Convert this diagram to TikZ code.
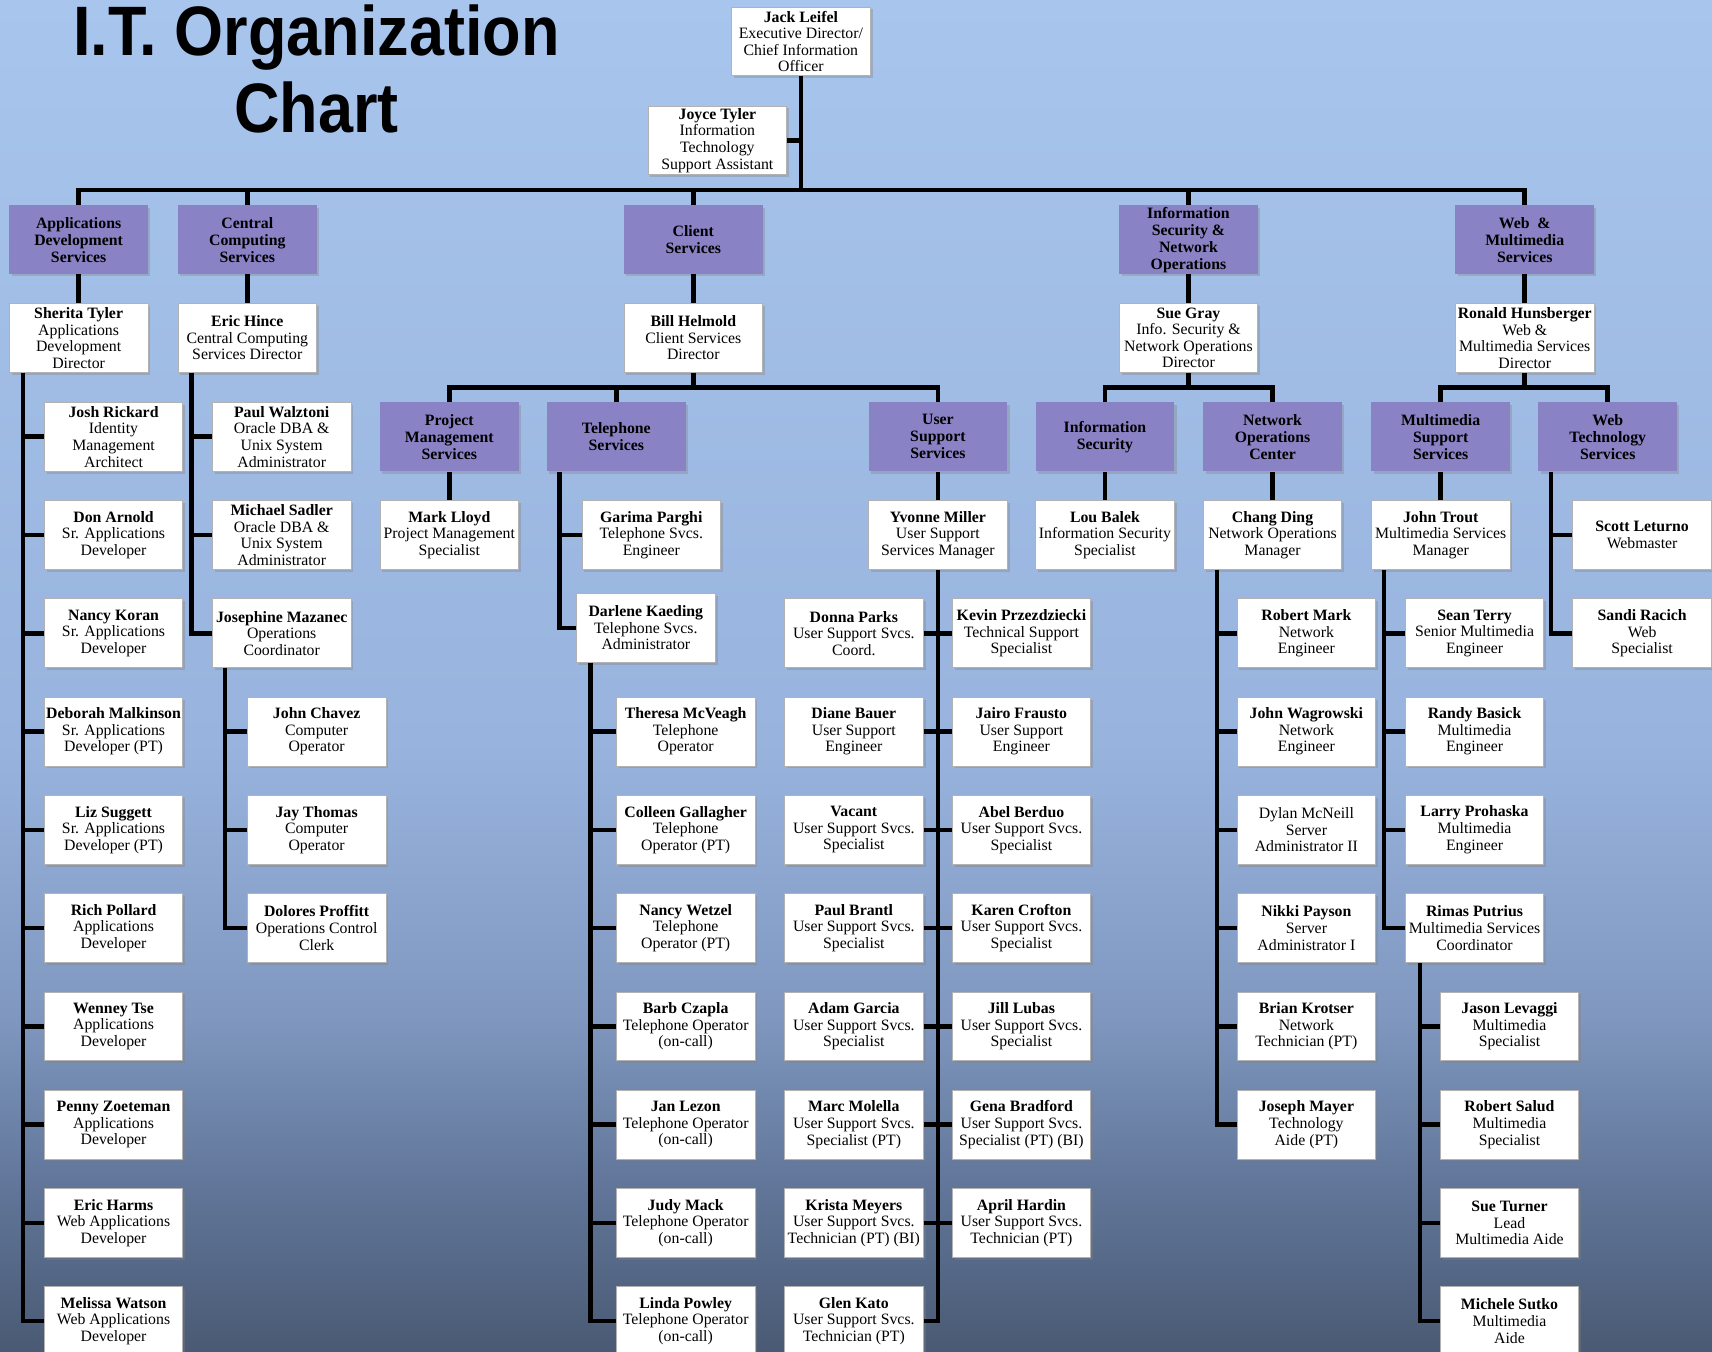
\documentclass[tikz,border=0pt]{standalone}
\usepackage{fontspec}
\setmainfont{Liberation Serif}
\newfontfamily\titlefont{Liberation Sans}[FakeStretch=0.9]
\usepackage{xcolor}
\usepackage{tikz}
\usetikzlibrary{shadows,calc}

\definecolor{unitfill}{RGB}{137,130,196}
\definecolor{bgtop}{RGB}{168,197,237}
\definecolor{bgmid}{RGB}{152,180,222}
\definecolor{bgdim}{RGB}{128,152,192}
\definecolor{bglow}{RGB}{96,117,152}
\definecolor{bgbot}{RGB}{74,90,116}
\pgfdeclareverticalshading{skyshade}{100bp}{color(0bp)=(bgbot); color(25bp)=(bgbot); color(31bp)=(bglow); color(37.5bp)=(bgdim); color(47.5bp)=(bgmid); color(75bp)=(bgtop); color(100bp)=(bgtop)}

\begin{document}
\begin{tikzpicture}[x=0.5459pt, y=-0.5459pt,
    pbox/.style={rectangle, draw=gray!60, line width=0.4pt, fill=white,
                 minimum width=69.3pt, minimum height=34.4pt, inner sep=0.5pt,
                 align=center, font=\fontsize{7.9}{8.3}\selectfont,
                 drop shadow={shadow xshift=1.2pt, shadow yshift=-1.2pt, opacity=0.35}},
    unit/.style={pbox, draw=none, fill=unitfill, font=\fontsize{7.9}{8.5}\selectfont\bfseries},
    conn/.style={line width=2.3pt, black},
]
    \useasboundingbox (0,0) rectangle (1568,1238);
    \shade[shading=skyshade] (0,0) rectangle (1568,1238);

    \node[font=\titlefont\bfseries\fontsize{35}{35}\selectfont, anchor=base] (title) at (290,51) {I.T. Organization};
    \node[font=\titlefont\bfseries\fontsize{35}{35}\selectfont, anchor=base] (titlesub) at (290,121) {Chart};

    % Top
    \node[pbox] (jack) at (733.5,38) {\textbf{Jack Leifel}\\Executive Director/\\Chief Information\\Officer};
    \node[pbox] (joyce) at (657,128.5) {\textbf{Joyce Tyler}\\Information\\Technology\\Support Assistant};

    % Divisions
    \node[unit] (appdev) at (72,219.5) {Applications\\Development\\Services};
    \node[unit] (central) at (226.5,219.5) {Central\\Computing\\Services};
    \node[unit] (client) at (635,219.5) {Client\\Services};
    \node[unit] (secnet) at (1088.5,219.5) {Information\\Security \&\\Network\\Operations};
    \node[unit] (webmm) at (1396.5,219.5) {Web\ \ \&\\Multimedia\\Services};

    \node[pbox] (sherita) at (72,309.5) {\textbf{Sherita Tyler}\\Applications\\Development\\Director};
    \node[pbox] (eric) at (226.5,309.5) {\textbf{Eric Hince}\\Central Computing\\Services Director};
    \node[pbox] (bill) at (635,309.5) {\textbf{Bill Helmold}\\Client Services\\Director};
    \node[pbox] (sue) at (1088.5,309.5) {\textbf{Sue Gray}\\Info. Security \&\\Network Operations\\Director};
    \node[pbox] (ronald) at (1396.5,309.5) {\textbf{Ronald Hunsberger}\\Web \&\\Multimedia Services\\Director};

    % Applications Development
    \node[pbox] (josh) at (104,400) {\textbf{Josh Rickard}\\Identity\\Management\\Architect};
    \node[pbox] (donarnold) at (104,490) {\textbf{Don Arnold}\\Sr. Applications\\Developer};
    \node[pbox] (nkoran) at (104,580) {\textbf{Nancy Koran}\\Sr. Applications\\Developer};
    \node[pbox] (deborah) at (104,670) {\textbf{Deborah Malkinson}\\Sr. Applications\\Developer (PT)};
    \node[pbox] (liz) at (104,760) {\textbf{Liz Suggett}\\Sr. Applications\\Developer (PT)};
    \node[pbox] (rich) at (104,850) {\textbf{Rich Pollard}\\Applications\\Developer};
    \node[pbox] (wenney) at (104,940) {\textbf{Wenney Tse}\\Applications\\Developer};
    \node[pbox] (penny) at (104,1030) {\textbf{Penny Zoeteman}\\Applications\\Developer};
    \node[pbox] (eharms) at (104,1120) {\textbf{Eric Harms}\\Web Applications\\Developer};
    \node[pbox] (melissa) at (104,1210) {\textbf{Melissa Watson}\\Web Applications\\Developer};

    % Central Computing
    \node[pbox] (paulw) at (258,400) {\textbf{Paul Walztoni}\\Oracle DBA \&\\Unix System\\Administrator};
    \node[pbox] (sadler) at (258,490) {\textbf{Michael Sadler}\\Oracle DBA \&\\Unix System\\Administrator};
    \node[pbox] (josephine) at (258,580) {\textbf{Josephine Mazanec}\\Operations\\Coordinator};
    \node[pbox] (chavez) at (290,670) {\textbf{John Chavez}\\Computer\\Operator};
    \node[pbox] (jthomas) at (290,760) {\textbf{Jay Thomas}\\Computer\\Operator};
    \node[pbox] (dolores) at (290,850) {\textbf{Dolores Proffitt}\\Operations Control\\Clerk};

    % Client Services
    \node[unit] (projmgmt) at (411.5,400) {Project\\Management\\Services};
    \node[unit] (telsvc) at (564.5,400) {Telephone\\Services};
    \node[unit] (usersvc) at (859,400) {User\\Support\\Services};
    \node[pbox] (mark) at (411.5,490) {\textbf{Mark Lloyd}\\Project Management\\Specialist};
    \node[pbox] (garima) at (596.5,490) {\textbf{Garima Parghi}\\Telephone Svcs.\\Engineer};
    \node[pbox] (darlene) at (591.5,575) {\textbf{Darlene Kaeding}\\Telephone Svcs.\\Administrator};
    \node[pbox] (theresa) at (628,670) {\textbf{Theresa McVeagh}\\Telephone\\Operator};
    \node[pbox] (colleen) at (628,760) {\textbf{Colleen Gallagher}\\Telephone\\Operator (PT)};
    \node[pbox] (nwetzel) at (628,850) {\textbf{Nancy Wetzel}\\Telephone\\Operator (PT)};
    \node[pbox] (barb) at (628,940) {\textbf{Barb Czapla}\\Telephone Operator\\(on-call)};
    \node[pbox] (janlezon) at (628,1030) {\textbf{Jan Lezon}\\Telephone Operator\\(on-call)};
    \node[pbox] (judy) at (628,1120) {\textbf{Judy Mack}\\Telephone Operator\\(on-call)};
    \node[pbox] (linda) at (628,1210) {\textbf{Linda Powley}\\Telephone Operator\\(on-call)};

    \node[pbox] (yvonne) at (859,490) {\textbf{Yvonne Miller}\\User Support\\Services Manager};
    \node[pbox] (donna) at (782,580) {\textbf{Donna Parks}\\User Support Svcs.\\Coord.};
    \node[pbox] (diane) at (782,670) {\textbf{Diane Bauer}\\User Support\\Engineer};
    \node[pbox] (vacant) at (782,760) {\textbf{Vacant}\\User Support Svcs.\\Specialist};
    \node[pbox] (brantl) at (782,850) {\textbf{Paul Brantl}\\User Support Svcs.\\Specialist};
    \node[pbox] (adam) at (782,940) {\textbf{Adam Garcia}\\User Support Svcs.\\Specialist};
    \node[pbox] (marc) at (782,1030) {\textbf{Marc Molella}\\User Support Svcs.\\Specialist (PT)};
    \node[pbox] (krista) at (782,1120) {\textbf{Krista Meyers}\\User Support Svcs.\\Technician (PT) (BI)};
    \node[pbox] (glen) at (782,1210) {\textbf{Glen Kato}\\User Support Svcs.\\Technician (PT)};
    \node[pbox] (kevin) at (935.5,580) {\textbf{Kevin Przezdziecki}\\Technical Support\\Specialist};
    \node[pbox] (jairo) at (935.5,670) {\textbf{Jairo Frausto}\\User Support\\Engineer};
    \node[pbox] (abel) at (935.5,760) {\textbf{Abel Berduo}\\User Support Svcs.\\Specialist};
    \node[pbox] (karen) at (935.5,850) {\textbf{Karen Crofton}\\User Support Svcs.\\Specialist};
    \node[pbox] (jill) at (935.5,940) {\textbf{Jill Lubas}\\User Support Svcs.\\Specialist};
    \node[pbox] (gena) at (935.5,1030) {\textbf{Gena Bradford}\\User Support Svcs.\\Specialist (PT) (BI)};
    \node[pbox] (april) at (935.5,1120) {\textbf{April Hardin}\\User Support Svcs.\\Technician (PT)};

    % Information Security & Network Operations
    \node[unit] (infosec) at (1012,400) {Information\\Security};
    \node[unit] (netops) at (1165.5,400) {Network\\Operations\\Center};
    \node[pbox] (lou) at (1012,490) {\textbf{Lou Balek}\\Information Security\\Specialist};
    \node[pbox] (chang) at (1165.5,490) {\textbf{Chang Ding}\\Network Operations\\Manager};
    \node[pbox] (rmark) at (1196.5,580) {\textbf{Robert Mark}\\Network\\Engineer};
    \node[pbox] (wagrowski) at (1196.5,670) {\textbf{John Wagrowski}\\Network\\Engineer};
    \node[pbox] (dylan) at (1196.5,760) {Dylan McNeill\\Server\\Administrator II};
    \node[pbox] (nikki) at (1196.5,850) {\textbf{Nikki Payson}\\Server\\Administrator I};
    \node[pbox] (brian) at (1196.5,940) {\textbf{Brian Krotser}\\Network\\Technician (PT)};
    \node[pbox] (joseph) at (1196.5,1030) {\textbf{Joseph Mayer}\\Technology\\Aide (PT)};

    % Web & Multimedia
    \node[unit] (mmsup) at (1319.5,400) {Multimedia\\Support\\Services};
    \node[unit] (webtech) at (1472.5,400) {Web\\Technology\\Services};
    \node[pbox] (trout) at (1319.5,490) {\textbf{John Trout}\\Multimedia Services\\Manager};
    \node[pbox] (sean) at (1350.5,580) {\textbf{Sean Terry}\\Senior Multimedia\\Engineer};
    \node[pbox] (randy) at (1350.5,670) {\textbf{Randy Basick}\\Multimedia\\Engineer};
    \node[pbox] (larry) at (1350.5,760) {\textbf{Larry Prohaska}\\Multimedia\\Engineer};
    \node[pbox] (rimas) at (1350.5,850) {\textbf{Rimas Putrius}\\Multimedia Services\\Coordinator};
    \node[pbox] (jason) at (1382.5,940) {\textbf{Jason Levaggi}\\Multimedia\\Specialist};
    \node[pbox] (salud) at (1382.5,1030) {\textbf{Robert Salud}\\Multimedia\\Specialist};
    \node[pbox] (sturner) at (1382.5,1120) {\textbf{Sue Turner}\\Lead\\Multimedia Aide};
    \node[pbox] (michele) at (1382.5,1210) {\textbf{Michele Sutko}\\Multimedia\\Aide};
    \node[pbox] (scott) at (1504,490) {\textbf{Scott Leturno}\\Webmaster};
    \node[pbox] (sandi) at (1504,580) {\textbf{Sandi Racich}\\Web\\Specialist};

    % Connectors
    \coordinate (topbus) at (733.5,174);
    \draw[conn] (jack.south) -- (topbus);
    \draw[conn] (joyce.east) -- (joyce.east -| topbus);
    \draw[conn] (appdev.north) |- (topbus) -| (webmm.north);
    \draw[conn] (central.north) -- (central.north |- topbus);
    \draw[conn] (client.north) -- (client.north |- topbus);
    \draw[conn] (secnet.north) -- (secnet.north |- topbus);
    \draw[conn] (appdev) -- (sherita);
    \draw[conn] (central) -- (eric);
    \draw[conn] (client) -- (bill);
    \draw[conn] (secnet) -- (sue);
    \draw[conn] (webmm) -- (ronald);

    \path (sherita.south west) ++(13,0) coordinate (adtrunk);
    \draw[conn] (adtrunk) |- (melissa.west);
    \draw[conn] (josh.west) -- (josh.west -| adtrunk) (donarnold.west) -- (donarnold.west -| adtrunk)
        (nkoran.west) -- (nkoran.west -| adtrunk) (deborah.west) -- (deborah.west -| adtrunk)
        (liz.west) -- (liz.west -| adtrunk) (rich.west) -- (rich.west -| adtrunk)
        (wenney.west) -- (wenney.west -| adtrunk) (penny.west) -- (penny.west -| adtrunk)
        (eharms.west) -- (eharms.west -| adtrunk);

    \path (eric.south west) ++(13,0) coordinate (cctrunk);
    \draw[conn] (cctrunk) |- (josephine.west);
    \draw[conn] (paulw.west) -- (paulw.west -| cctrunk) (sadler.west) -- (sadler.west -| cctrunk);
    \path (josephine.south west) ++(12,0) coordinate (jmtrunk);
    \draw[conn] (jmtrunk) |- (dolores.west);
    \draw[conn] (chavez.west) -- (chavez.west -| jmtrunk) (jthomas.west) -- (jthomas.west -| jmtrunk);

    \coordinate (clbus) at (635,355);
    \draw[conn] (bill.south) -- (clbus);
    \draw[conn] (projmgmt.north) |- (clbus) -| (usersvc.north);
    \draw[conn] (telsvc.north) -- (telsvc.north |- clbus);
    \draw[conn] (projmgmt) -- (mark);
    \path (telsvc.south west) ++(12,0) coordinate (teltrunk);
    \draw[conn] (teltrunk) |- (darlene.west);
    \draw[conn] (garima.west) -- (garima.west -| teltrunk);
    \path (darlene.south west) ++(13,0) coordinate (dktrunk);
    \draw[conn] (dktrunk) |- (linda.west);
    \draw[conn] (theresa.west) -- (theresa.west -| dktrunk) (colleen.west) -- (colleen.west -| dktrunk)
        (nwetzel.west) -- (nwetzel.west -| dktrunk) (barb.west) -- (barb.west -| dktrunk)
        (janlezon.west) -- (janlezon.west -| dktrunk) (judy.west) -- (judy.west -| dktrunk);
    \draw[conn] (usersvc) -- (yvonne);
    \draw[conn] (yvonne.south) |- (glen.east);
    \draw[conn] (donna.east) -- (kevin.west) (diane.east) -- (jairo.west) (vacant.east) -- (abel.west)
        (brantl.east) -- (karen.west) (adam.east) -- (jill.west) (marc.east) -- (gena.west)
        (krista.east) -- (april.west);

    \coordinate (snbus) at (1088.5,355);
    \draw[conn] (sue.south) -- (snbus);
    \draw[conn] (infosec.north) |- (snbus) -| (netops.north);
    \draw[conn] (infosec) -- (lou);
    \draw[conn] (netops) -- (chang);
    \path (chang.south west) ++(13,0) coordinate (ndtrunk);
    \draw[conn] (ndtrunk) |- (joseph.west);
    \draw[conn] (rmark.west) -- (rmark.west -| ndtrunk) (wagrowski.west) -- (wagrowski.west -| ndtrunk)
        (dylan.west) -- (dylan.west -| ndtrunk) (nikki.west) -- (nikki.west -| ndtrunk)
        (brian.west) -- (brian.west -| ndtrunk);

    \coordinate (wmbus) at (1396.5,355);
    \draw[conn] (ronald.south) -- (wmbus);
    \draw[conn] (mmsup.north) |- (wmbus) -| (webtech.north);
    \draw[conn] (mmsup) -- (trout);
    \path (trout.south west) ++(12,0) coordinate (jttrunk);
    \draw[conn] (jttrunk) |- (rimas.west);
    \draw[conn] (sean.west) -- (sean.west -| jttrunk) (randy.west) -- (randy.west -| jttrunk)
        (larry.west) -- (larry.west -| jttrunk);
    \path (rimas.south west) ++(14,0) coordinate (rptrunk);
    \draw[conn] (rptrunk) |- (michele.west);
    \draw[conn] (jason.west) -- (jason.west -| rptrunk) (salud.west) -- (salud.west -| rptrunk)
        (sturner.west) -- (sturner.west -| rptrunk);
    \path (webtech.south west) ++(12,0) coordinate (wttrunk);
    \draw[conn] (wttrunk) |- (sandi.west);
    \draw[conn] (scott.west) -- (scott.west -| wttrunk);
\end{tikzpicture}
\end{document}
